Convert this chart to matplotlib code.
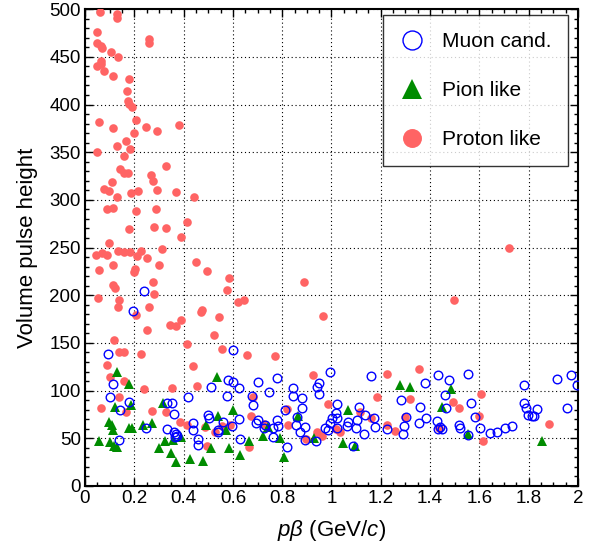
import matplotlib
matplotlib.use("Agg")
import matplotlib.pyplot as plt
from matplotlib.ticker import MultipleLocator

plt.rcParams['font.family'] = ['Liberation Sans', 'DejaVu Sans']
plt.rcParams['mathtext.fontset'] = 'custom'
plt.rcParams['mathtext.rm'] = 'Liberation Sans'
plt.rcParams['mathtext.it'] = 'Liberation Sans:italic'

# proton-like candidates (p*beta, pulse height)
proton_x = [0.061, 0.129, 0.129, 0.049, 0.049, 0.065, 0.070, 0.105, 0.135, 0.260,
            0.260, 0.065, 0.065, 0.049, 0.077, 0.114, 0.180, 0.170, 0.175, 0.179,
            0.190, 0.057, 0.207, 0.114, 0.248, 0.293, 0.382, 0.200, 0.166, 0.130,
            0.183, 0.049, 0.159, 0.330, 0.142, 0.159, 0.175, 0.268, 0.276, 0.110,
            0.077, 0.098, 0.187, 0.215, 0.293, 0.370, 0.130, 0.443, 0.089, 0.114,
            0.207, 0.289, 0.415, 0.280, 0.330, 0.179, 0.390, 0.098, 0.045, 0.069,
            0.089, 0.134, 0.159, 0.183, 0.228, 0.211, 0.252, 0.313, 0.057, 0.114,
            0.203, 0.199, 0.301, 0.451, 0.496, 0.114, 0.122, 0.276, 0.280, 0.585,
            0.577, 0.053, 0.138, 0.134, 0.260, 0.207, 0.476, 0.471, 0.545, 0.622,
            0.646, 0.390, 0.346, 0.370, 0.252, 0.524, 0.118, 0.415, 0.138, 0.159,
            0.557, 0.228, 0.659, 0.089, 0.439, 0.102, 0.159, 0.240, 0.354, 0.455,
            0.138, 0.065, 0.167, 0.272, 0.329, 0.386, 0.415, 0.557, 0.488, 0.528,
            0.496, 0.667, 0.890, 0.967, 1.720, 1.496, 0.772, 0.923, 1.224, 1.354,
            0.683, 0.984, 1.183, 1.317, 0.821, 0.675, 0.728, 0.825, 0.898, 0.943,
            0.963, 1.020, 1.033, 1.114, 1.159, 1.224, 1.256, 1.300, 1.492, 1.516,
            1.606, 1.435, 1.600, 1.614, 1.882, 0.589]
proton_y = [497, 495, 491, 476, 465, 461, 459, 455, 450, 469,
            465, 446, 442, 440, 435, 430, 427, 414, 404, 401,
            397, 382, 384, 375, 376, 372, 379, 370, 362, 357,
            353, 350, 346, 335, 332, 328, 328, 326, 320, 319,
            311, 309, 307, 309, 310, 308, 303, 303, 290, 291,
            288, 290, 277, 272, 270, 269, 261, 255, 242, 244,
            242, 246, 245, 245, 246, 241, 239, 249, 226, 232,
            227, 224, 232, 235, 225, 211, 208, 214, 201, 218,
            205, 197, 195, 188, 188, 179, 185, 182, 177, 193,
            195, 174, 169, 168, 164, 158, 153, 149, 141, 141,
            144, 138, 137, 127, 126, 114, 110, 102, 103, 105,
            93, 82, 78, 79, 78, 67, 64, 63, 62, 57,
            42, 41, 214, 178, 250, 195, 136, 116, 117, 123,
            93, 86, 93, 91, 81, 73, 65, 64, 49, 57,
            52, 60, 57, 78, 71, 64, 58, 72, 88, 82,
            96, 61, 73, 47, 65, 64]

# pion-like candidates
pion_x = [0.057, 0.098, 0.110, 0.114, 0.102, 0.118, 0.130, 0.130, 0.179, 0.122,
          0.187, 0.179, 0.191, 0.236, 0.272, 0.317, 0.325, 0.300, 0.349, 0.357,
          0.370, 0.390, 0.426, 0.479, 0.511, 0.491, 0.540, 0.536, 0.572, 0.584,
          0.600, 0.630, 0.665, 0.722, 0.742, 0.791, 0.807, 0.864, 0.929, 1.047,
          1.095, 1.067, 1.278, 1.318, 1.485, 1.448, 1.554, 1.854]
pion_y = [47, 67, 64, 59, 46, 42, 41, 120, 107, 83,
          85, 61, 61, 64, 66, 87, 47, 40, 35, 48,
          25, 51, 28, 26, 40, 64, 73, 114, 59, 40,
          80, 33, 47, 52, 62, 50, 30, 73, 50, 45,
          42, 80, 106, 104, 102, 83, 54, 47]

# muon candidates
muon_x = [0.239, 0.195, 0.093, 0.114, 0.101, 0.142, 0.179, 0.138, 0.247, 0.333,
          0.353, 0.361, 0.333, 0.361, 0.369, 0.365, 0.373, 0.418, 0.438, 0.438,
          0.458, 0.458, 0.499, 0.503, 0.511, 0.540, 0.540, 0.560, 0.580, 0.600,
          0.576, 0.625, 0.625, 0.629, 0.600, 0.702, 0.779, 0.746, 0.677, 0.682,
          0.844, 0.844, 0.880, 0.880, 0.810, 0.596, 0.694, 0.702, 0.730, 0.726,
          0.763, 0.779, 0.783, 0.763, 0.819, 0.860, 0.856, 0.872, 0.892, 0.892,
          0.937, 0.949, 0.941, 0.949, 0.994, 1.022, 1.018, 1.022, 0.994, 0.974,
          0.986, 1.002, 1.022, 1.160, 1.087, 1.112, 1.103, 1.100, 1.067, 1.063,
          1.136, 1.173, 1.176, 1.132, 1.225, 1.282, 1.302, 1.294, 1.290, 1.359,
          1.355, 1.379, 1.432, 1.477, 1.460, 1.464, 1.383, 1.428, 1.440, 1.448,
          1.432, 1.517, 1.521, 1.554, 1.566, 1.582, 1.602, 1.554, 1.643, 1.671,
          1.704, 1.732, 1.781, 1.781, 1.789, 1.797, 1.813, 1.821, 1.834, 1.915,
          1.971, 1.995, 1.955]
muon_y = [204, 183, 138, 107, 93, 80, 88, 48, 61, 87,
          87, 75, 60, 57, 55, 51, 52, 93, 66, 59,
          49, 43, 74, 71, 104, 59, 57, 67, 111, 109,
          94, 103, 70, 49, 143, 109, 113, 99, 94, 85,
          103, 94, 92, 82, 80, 63, 66, 69, 64, 61,
          61, 69, 63, 51, 41, 72, 64, 57, 62, 48,
          47, 108, 104, 96, 120, 86, 77, 71, 66, 61,
          59, 71, 61, 115, 42, 83, 69, 61, 67, 63,
          74, 71, 62, 55, 60, 90, 72, 63, 55, 83,
          66, 108, 116, 111, 95, 82, 71, 68, 62, 60,
          60, 64, 61, 117, 87, 72, 61, 53, 56, 57,
          61, 63, 106, 87, 82, 74, 73, 73, 81, 112,
          116, 106, 82]

fig = plt.figure(figsize=(5.93, 5.5), dpi=100)
ax = fig.add_axes([0.1433, 0.1164, 0.8314, 0.867])

ax.plot(proton_x, proton_y, 'o', color='#ff6464', markersize=6.2, mew=0,
        linestyle='none', label='Proton like', zorder=3)
ax.plot(pion_x, pion_y, '^', color='#008c00', markersize=6.7, mew=0,
        linestyle='none', label='Pion like', zorder=4)
ax.plot(muon_x, muon_y, 'o', mfc='none', mec='#0000ff', markersize=6.2, mew=1,
        linestyle='none', label='Muon cand.', zorder=5)

ax.set_xlim(0, 2)
ax.set_ylim(0, 500)
ax.xaxis.set_major_locator(MultipleLocator(0.2))
ax.xaxis.set_minor_locator(MultipleLocator(0.05))
ax.yaxis.set_major_locator(MultipleLocator(50))
ax.yaxis.set_minor_locator(MultipleLocator(10))
ax.set_xticks([0, 0.2, 0.4, 0.6, 0.8, 1, 1.2, 1.4, 1.6, 1.8, 2])
ax.set_xticklabels(['0', '0.2', '0.4', '0.6', '0.8', '1', '1.2', '1.4', '1.6', '1.8', '2'])

ax.tick_params(which='both', direction='in', top=True, right=True, width=1)
ax.tick_params(which='major', length=6, labelsize=13.5, pad=3)
ax.tick_params(which='minor', length=3)
for sp in ax.spines.values():
    sp.set_linewidth(1.5)

ax.grid(True, which='major', color='black', linestyle=(0, (1, 2.5)), linewidth=0.8)
ax.set_axisbelow(True)

ax.set_xlabel(r'$p\beta$ (GeV/$c$)', fontsize=16, labelpad=8)
ax.set_ylabel('Volume pulse height', fontsize=16, labelpad=8)

h, l = ax.get_legend_handles_labels()
leg = ax.legend(h[::-1], l[::-1], loc='upper right', bbox_to_anchor=(0.98, 0.987),
                fontsize=15, markerscale=2.2, frameon=True, fancybox=False,
                edgecolor='black', borderpad=0.8, labelspacing=1.45,
                handlelength=1.25, handletextpad=0.8, borderaxespad=0)
leg.get_frame().set_linewidth(1)

fig.savefig('out.png', dpi=100)
